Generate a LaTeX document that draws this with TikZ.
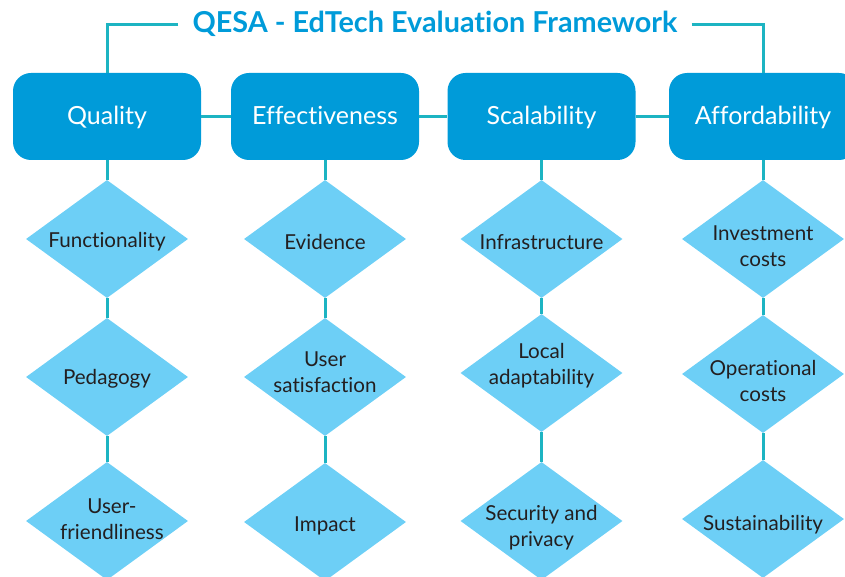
\documentclass[tikz,border=0pt]{standalone}
\usepackage{fontspec}
\setmainfont{Lato}[Ligatures={NoCommon,NoRare,NoContextual}]
\usepackage{xcolor}
\usepackage{tikz}
\usetikzlibrary{shapes.geometric}

\definecolor{azulcaixa}{HTML}{009BD9}
\definecolor{azullosango}{HTML}{6DCFF6}
\definecolor{verdeligacao}{HTML}{1DB4C2}
\definecolor{cinzatexto}{HTML}{231F20}

\begin{document}
\begin{tikzpicture}[x=1pt, y=-1pt,
    pilar/.style={fill=azulcaixa, rounded corners=18pt, minimum width=188pt,
      minimum height=87pt, text=white, font=\fontsize{25}{29}\selectfont,
      text height=20pt, text depth=3pt},
    criterio/.style={shape=diamond, fill=azullosango, minimum width=162pt,
      minimum height=118pt, inner sep=0pt},
    criteriotexto/.style={align=center, text=cinzatexto,
      font=\fontsize{20.6}{26}\selectfont},
    ligacao/.style={draw=verdeligacao, line width=3pt}]
    % moldura da figura
    \path[use as bounding box] (0,0) rectangle (845,577);
    \clip (0,0) rectangle (845,577);
    % titulo
    \node[text=azulcaixa, font=\fontsize{28.8}{32}\selectfont\bfseries,
      inner xsep=14pt, text height=20pt, text depth=4pt] (titulo) at (435,25)
      {QESA - EdTech Evaluation Framework};
    % os quatro pilares
    \node[pilar] (Q) at (107,116.5) {Quality};
    \node[pilar] (E) at (325,116.5) {Effectiveness};
    \node[pilar] (S) at (541.5,116.5) {Scalability};
    \node[pilar] (A) at (763,116.5) {Affordability};
    % losangos de Quality
    \node[criterio] (Q1) at (107,239) {};
    \node[criterio] (Q2) at (107,377) {};
    \node[criterio] (Q3) at (107,521) {};
    \node[criteriotexto, yshift=-3pt] (Q1t) at (Q1) {Functionality};
    \node[criteriotexto, yshift=-2pt] (Q2t) at (Q2) {Pedagogy};
    \node[criteriotexto, xshift=5pt, yshift=2pt] (Q3t) at (Q3) {User-\\friendliness};
    % losangos de Effectiveness
    \node[criterio] (E1) at (325,239) {};
    \node[criterio] (E2) at (325,377) {};
    \node[criterio] (E3) at (325,522) {};
    \node[criteriotexto, yshift=-3pt] (E1t) at (E1) {Evidence};
    \node[criteriotexto, yshift=4.5pt] (E2t) at (E2) {User\\satisfaction};
    \node[criteriotexto, yshift=-4pt] (E3t) at (E3) {Impact};
    % losangos de Scalability
    \node[criterio] (S1) at (541.5,239) {};
    \node[criterio] (S2) at (541.5,373) {};
    \node[criterio] (S3) at (541.5,521) {};
    \node[criteriotexto, yshift=-3pt] (S1t) at (S1) {Infrastructure};
    \node[criteriotexto, yshift=7pt] (S2t) at (S2) {Local\\adaptability};
    \node[criteriotexto, yshift=-7pt] (S3t) at (S3) {Security and\\privacy};
    % losangos de Affordability
    \node[criterio] (A1) at (763,239) {};
    \node[criterio] (A2) at (763,374) {};
    \node[criterio] (A3) at (763,519) {};
    \node[criteriotexto, yshift=-7pt] (A1t) at (A1) {Investment\\costs};
    \node[criteriotexto, yshift=-7pt] (A2t) at (A2) {Operational\\costs};
    \node[criteriotexto, yshift=-6pt] (A3t) at (A3) {Sustainability};
    % ligacoes do titulo
    \draw[ligacao] (titulo.west) -| (Q.north);
    \draw[ligacao] (titulo.east) -| (A.north);
    % ligacoes entre pilares
    \draw[ligacao] (Q) -- (E);
    \draw[ligacao] (E) -- (S);
    \draw[ligacao] (S) -- (A);
    % ligacoes verticais
    \draw[ligacao] (Q) -- (Q1);
    \draw[ligacao] (Q1) -- (Q2);
    \draw[ligacao] (Q2) -- (Q3);
    \draw[ligacao] (E) -- (E1);
    \draw[ligacao] (E1) -- (E2);
    \draw[ligacao] (E2) -- (E3);
    \draw[ligacao] (S) -- (S1);
    \draw[ligacao] (S1) -- (S2);
    \draw[ligacao] (S2) -- (S3);
    \draw[ligacao] (A) -- (A1);
    \draw[ligacao] (A1) -- (A2);
    \draw[ligacao] (A2) -- (A3);
\end{tikzpicture}
\end{document}
